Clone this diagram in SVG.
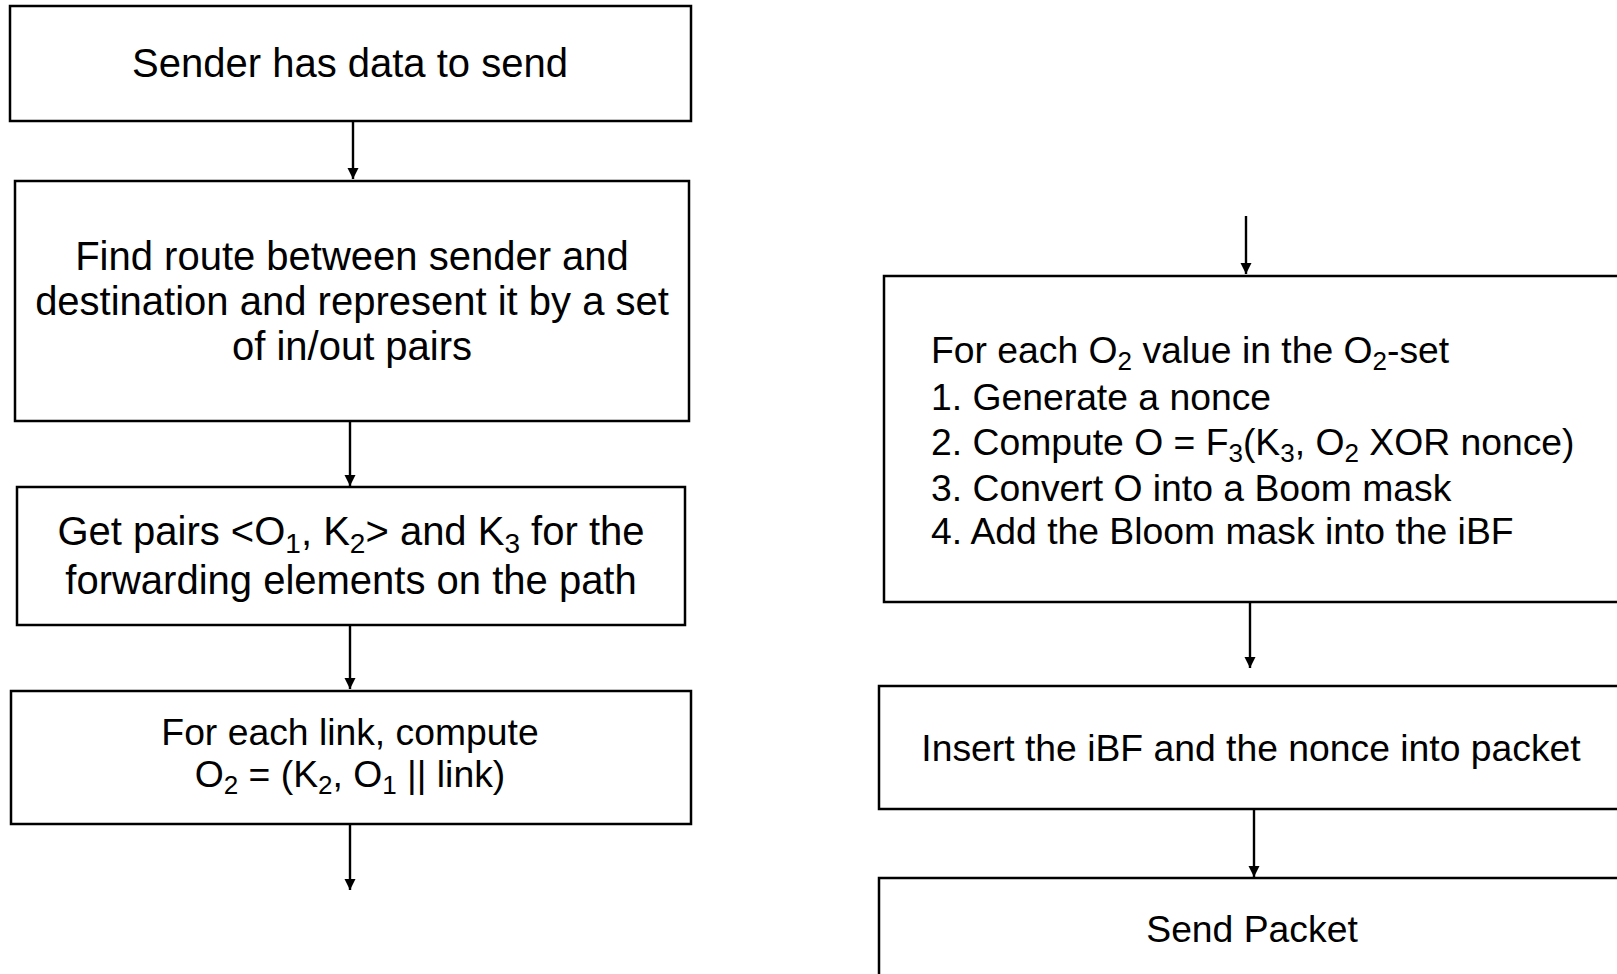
<svg xmlns="http://www.w3.org/2000/svg" width="1617" height="974" viewBox="0 0 1617 974">
  <style>
    .box { fill: #ffffff; stroke: #000000; stroke-width: 2.5; }
    .edge { fill: none; stroke: #000000; stroke-width: 2.4; marker-end: url(#arrow); }
    .big { font-family: "Liberation Sans", Arial, sans-serif; font-size: 40px; fill: #000000; }
    .mid { font-family: "Liberation Sans", Arial, sans-serif; font-size: 37.3px; fill: #000000; }
    .c { text-anchor: middle; }
    .s40 { font-size: 28px; }
    .s37 { font-size: 26px; }
  </style>
  <defs>
    <!-- solid triangular arrowhead, sized in user units -->
    <marker id="arrow" markerUnits="userSpaceOnUse" markerWidth="14" markerHeight="14" viewBox="0 0 14 14" refX="12" refY="7" orient="auto">
      <path d="M1,1.5 L12,7 L1,12.5 Z" fill="#000000"/>
    </marker>
  </defs>
  <rect width="1617" height="974" fill="#ffffff"/>

  <!-- connectors -->
  <g id="connectors">
    <line class="edge" x1="353" y1="121" x2="353" y2="179"/>
    <line class="edge" x1="350" y1="421" x2="350" y2="486"/>
    <line class="edge" x1="350" y1="625" x2="350" y2="689"/>
    <line class="edge" x1="350" y1="824" x2="350" y2="890"/>
    <line class="edge" x1="1246" y1="216" x2="1246" y2="274"/>
    <line class="edge" x1="1250" y1="603" x2="1250" y2="668"/>
    <line class="edge" x1="1254" y1="809" x2="1254" y2="877"/>
  </g>

  <!-- left column -->
  <g id="sender-has-data">
    <rect class="box" x="10" y="6" width="681" height="115"/>
    <text class="big c" x="350" y="77">Sender has data to send</text>
  </g>

  <g id="find-route">
    <rect class="box" x="15" y="181" width="674" height="240"/>
    <text class="big c" x="352" y="270">Find route between sender and</text>
    <text class="big c" x="352" y="315">destination and represent it by a set</text>
    <text class="big c" x="352" y="360">of in/out pairs</text>
  </g>

  <g id="get-pairs">
    <rect class="box" x="17" y="487" width="668" height="138"/>
    <text class="big c" x="351" y="545">Get pairs &lt;O<tspan class="s40" dy="8">1</tspan><tspan dy="-8">, K</tspan><tspan class="s40" dy="8">2</tspan><tspan dy="-8">&gt; and K</tspan><tspan class="s40" dy="8">3</tspan><tspan dy="-8"> for the</tspan></text>
    <text class="big c" x="351" y="594">forwarding elements on the path</text>
  </g>

  <g id="compute-o2">
    <rect class="box" x="11" y="691" width="680" height="133"/>
    <text class="mid c" x="350" y="745">For each link, compute</text>
    <text class="mid c" x="350" y="787">O<tspan class="s37" dy="7">2</tspan><tspan dy="-7"> = (K</tspan><tspan class="s37" dy="7">2</tspan><tspan dy="-7">, O</tspan><tspan class="s37" dy="7">1</tspan><tspan dy="-7"> || link)</tspan></text>
  </g>

  <!-- right column -->
  <g id="bloom-loop">
    <rect class="box" x="884" y="276" width="760" height="326"/>
    <text class="mid" x="931" y="363">For each O<tspan class="s37" dy="7">2</tspan><tspan dy="-7"> value in the O</tspan><tspan class="s37" dy="7">2</tspan><tspan dy="-7">-set</tspan></text>
    <text class="mid" x="931" y="410">1. Generate a nonce</text>
    <text class="mid" x="931" y="455">2. Compute O = F<tspan class="s37" dy="7">3</tspan><tspan dy="-7">(K</tspan><tspan class="s37" dy="7">3</tspan><tspan dy="-7">, O</tspan><tspan class="s37" dy="7">2</tspan><tspan dy="-7"> XOR nonce)</tspan></text>
    <text class="mid" x="931" y="501">3. Convert O into a Boom mask</text>
    <text class="mid" x="931" y="544">4. Add the Bloom mask into the iBF</text>
  </g>

  <g id="insert-ibf">
    <rect class="box" x="879" y="686" width="760" height="123"/>
    <text class="mid c" x="1251" y="761">Insert the iBF and the nonce into packet</text>
  </g>

  <g id="send-packet">
    <rect class="box" x="879" y="878" width="760" height="120"/>
    <text class="mid c" x="1252" y="942">Send Packet</text>
  </g>
</svg>
